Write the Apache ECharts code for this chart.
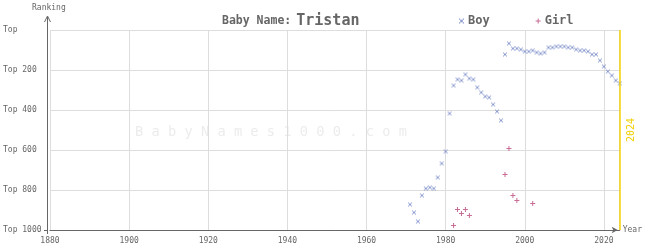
<!DOCTYPE html>
<html><head><meta charset="utf-8">
<script src="https://cdn.jsdelivr.net/npm/echarts@6/dist/echarts.min.js"></script>
<style>html,body{margin:0;padding:0;background:#fff}#c{width:645px;height:250px}</style>
</head><body><div id="c"></div>
<script>
var boyYears = [1971,1972,1973,1974,1975,1976,1977,1978,1979,1980,1981,1982,1983,1984,1985,1986,1987,1988,1989,1990,1991,1992,1993,1994,1995,1996,1997,1998,1999,2000,2001,2002,2003,2004,2005,2006,2007,2008,2009,2010,2011,2012,2013,2014,2015,2016,2017,2018,2019,2020,2021,2022,2023,2024];
var boyRanks = [872,912,957,827,792,787,792,737,667,607,417,277,247,252,222,242,247,287,312,332,337,372,407,452,122,67,92,92,97,107,107,102,112,117,112,87,87,82,82,82,87,87,97,102,102,107,122,122,152,182,207,227,252,267];
var girlYears = [1982,1983,1984,1985,1986,1995,1996,1997,1998,2002];
var girlRanks = [977,897,917,897,927,722,592,827,852,867];
var yearTicks = [1880,1900,1920,1940,1960,1980,2000,2020];
var rankTicks = [0,200,400,600,800,1000];
var currentYear = 2024;

var MONO = '"DejaVu Sans Mono", "Liberation Mono", monospace';
var boySym = 'path://M0,0h1v1h-1zM3,0h1v1h-1zM1,1h2v2h-2zM0,3h1v1h-1zM3,3h1v1h-1z';
var girlSym = 'path://M2,0h1v5h-1zM0,2h5v1h-5z';
var boyColor = '#6f82c4';
var girlColor = '#b9477a';

function pairs(xs, ys){ return xs.map(function(x,i){ return [x, ys[i]]; }); }

var chart = echarts.init(document.getElementById('c'), null, {renderer:'canvas'});
chart.setOption({
  animation:false,
  backgroundColor:'#fff',
  title:{
    left:217, top:7,
    text:'{a|Baby Name:} {b|Tristan}',
    textStyle:{ rich:{
      a:{fontFamily:MONO, fontSize:11.5, fontWeight:'bold', color:'#666'},
      b:{fontFamily:MONO, fontSize:15, color:'#666'}
    }}
  },
  legend:{
    left:454, top:10, itemWidth:5, itemHeight:5, itemGap:46,
    textStyle:{fontFamily:MONO, fontSize:12, fontWeight:'bold', color:'#666', padding:[0,0,0,-1]},
    data:[{name:'Boy', icon:boySym},{name:'Girl', icon:girlSym}]
  },
  grid:{left:47, right:22, top:30, bottom:20, containLabel:false},
  xAxis:{
    type:'value', min:1880, max:currentYear, interval:20, position:'bottom',
    name:'Year', nameLocation:'end', nameGap:3,
    nameTextStyle:{fontFamily:MONO, fontSize:8, color:'#666', verticalAlign:'middle'},
    axisLine:{show:true, onZero:false, lineStyle:{color:'#666', width:1}, symbol:['none','arrow'], symbolSize:[5,6], symbolOffset:[0,-2]},
    axisTick:{show:false},
    axisLabel:{fontFamily:MONO, fontSize:8, color:'#666', margin:7, showMaxLabel:false,
      formatter:function(v){ return yearTicks.indexOf(v)>=0 ? String(v) : ''; }},
    splitLine:{show:true, lineStyle:{color:'#ddd', width:1}}
  },
  yAxis:{
    type:'value', inverse:true, min:0, max:1000, interval:200,
    axisLine:{show:false},
    axisTick:{show:false},
    axisLabel:{fontFamily:MONO, fontSize:8, color:'#666', align:'left', margin:47,
      formatter:function(v){ return rankTicks.indexOf(v)>=0 ? (v===0?'Top':'Top '+v) : ''; }},
    splitLine:{show:true, lineStyle:{color:'#ddd', width:1}}
  },
  graphic:[
    {type:'text', id:'wm', z:-10, left:135, top:125, style:{text:'B a b y N a m e s 1 0 0 0 . c o m', font:'13.7px '+MONO, fill:'#ececec'}},
    {type:'line', id:'yl', shape:{x1:47.5, y1:17, x2:47.5, y2:234}, style:{stroke:'#666', lineWidth:1}},
    {type:'line', id:'ys', shape:{x1:44, y1:230.5, x2:47, y2:230.5}, style:{stroke:'#666', lineWidth:1}},
    {type:'polyline', id:'ya', shape:{points:[[44.5,22],[47.5,16],[50.5,22]]}, style:{stroke:'#666', lineWidth:1, fill:null}},
    {type:'text', id:'rk', left:32, top:4, style:{text:'Ranking', font:'8px '+MONO, fill:'#666'}}
  ],
  series:[
    {name:'Boy', type:'scatter', symbol:boySym, symbolSize:4, itemStyle:{color:boyColor},
     data:pairs(boyYears, boyRanks),
     markLine:{silent:true, symbol:['none','none'],
       lineStyle:{color:'#f5d30a', width:1.5, type:'solid'},
       label:{show:false},
       data:[{xAxis:currentYear}]}
    },
    {name:'Girl', type:'scatter', symbol:girlSym, symbolSize:5, itemStyle:{color:girlColor},
     data:pairs(girlYears, girlRanks)}
  ]
});
var p = chart.convertToPixel({gridIndex:0}, [currentYear, 500]);
var opt = chart.getOption();
var g = opt.graphic && opt.graphic[0] ? opt.graphic[0].elements : [];
chart.setOption({graphic:[{type:'text', id:'cy', x:p[0]+7, y:p[1], rotation:Math.PI/2,
  style:{text:String(currentYear), font:'10px '+MONO, fill:'#f0d000', align:'center', verticalAlign:'top'}}]});
</script></body></html>
